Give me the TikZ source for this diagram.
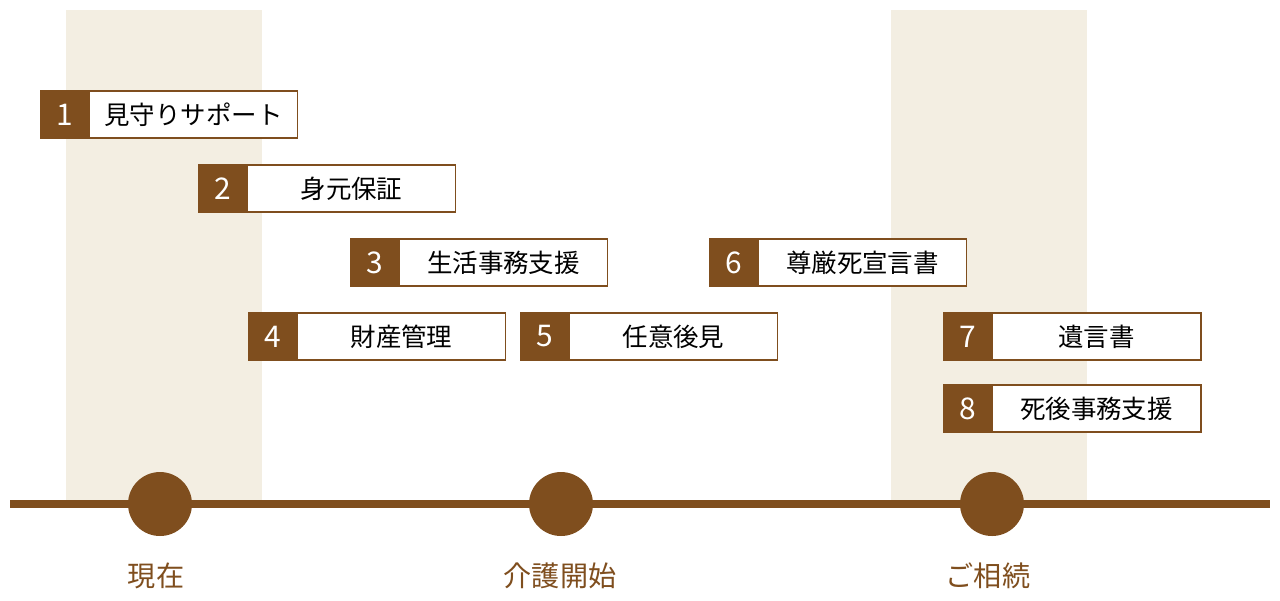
\documentclass[tikz,border=0pt]{standalone}
\usepackage{fontspec}
\setmainfont{Noto Sans CJK JP}
\usetikzlibrary{positioning}
\definecolor{tlbrown}{HTML}{7F4E1E}
\definecolor{tlbeige}{HTML}{F3EEE2}

\begin{document}
\begin{tikzpicture}[x=0.02cm,y=-0.02cm,
    numbox/.style={fill=tlbrown,draw=tlbrown,line width=.6pt,text=white,
        minimum width=.96cm,minimum height=.94cm,inner sep=0pt,outer sep=0pt,
        font=\fontsize{17}{18}\selectfont},
    itembox/.style={fill=white,draw=tlbrown,line width=.6pt,
        minimum width=4.18cm,minimum height=.94cm,inner sep=0pt,outer sep=0pt,
        font=\fontsize{14.5}{16}\selectfont},
    stage/.style={circle,fill=tlbrown,minimum size=1.28cm,inner sep=0pt},
    stagelabel/.style={text=tlbrown,font=\fontsize{16}{18}\selectfont}]
\useasboundingbox (0,0) rectangle (1280,600);

% shaded periods
\fill[tlbeige] (66,10) rectangle (262,500);
\fill[tlbeige] (891,10) rectangle (1087,500);

% time line
\coordinate (tls) at (10,504);
\coordinate (tle) at (1270,504);
\draw[tlbrown,line width=8*0.02cm] (tls) -- (tle);
\node[stage] (now) at (160,504) {};
\node[stage] (care) at (561,504) {};
\node[stage] (inh) at (992,504) {};
\node[stagelabel] (nowl) at (156,576) {現在};
\node[stagelabel] (carel) at (560,576) {介護開始};
\node[stagelabel] (inhl) at (988,576) {ご相続};

% services
\node[numbox] (n1) at (65,114.5) {1};
\node[itembox,right=0pt of n1] (b1) {見守りサポート};
\node[numbox] (n2) at (223,188.5) {2};
\node[itembox,right=0pt of n2] (b2) {身元保証};
\node[numbox] (n3) at (375,262.5) {3};
\node[itembox,right=0pt of n3] (b3) {生活事務支援};
\node[numbox] (n4) at (273,336.5) {4};
\node[itembox,right=0pt of n4] (b4) {財産管理};
\node[numbox] (n5) at (545,336.5) {5};
\node[itembox,right=0pt of n5] (b5) {任意後見};
\node[numbox] (n6) at (734,262.5) {6};
\node[itembox,right=0pt of n6] (b6) {尊厳死宣言書};
\node[numbox] (n7) at (968,336.5) {7};
\node[itembox,right=0pt of n7] (b7) {遺言書};
\node[numbox] (n8) at (968,408.5) {8};
\node[itembox,right=0pt of n8] (b8) {死後事務支援};
\end{tikzpicture}
\end{document}
